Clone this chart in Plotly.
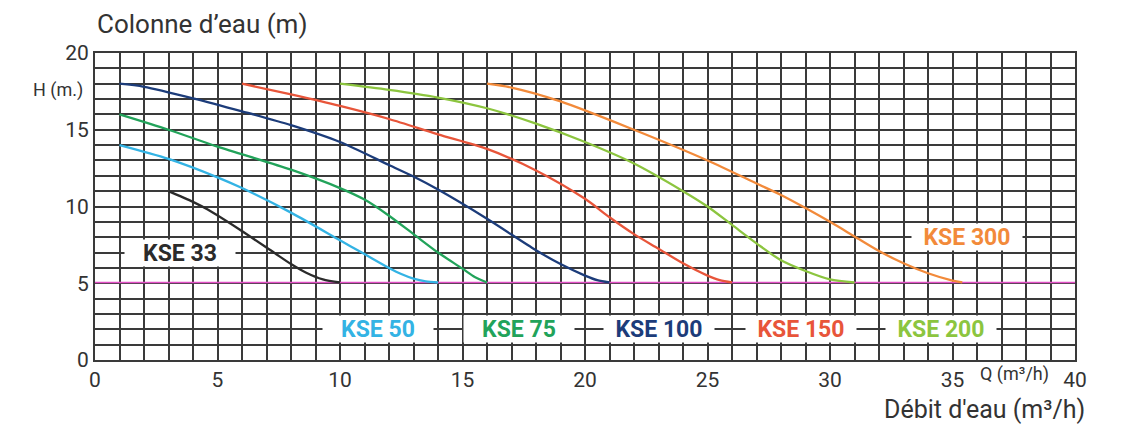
import plotly.graph_objects as go

# pump curves: flow Q (m3/h) vs head H (m)
kse33_q = [3, 4, 4.6, 5.9, 7.3, 8, 8.6, 9.3, 10]
kse33_h = [11, 10.3, 9.8, 8.5, 7.0, 6.25, 5.7, 5.25, 5.05]

kse50_q = [1, 3, 5, 6, 8, 10, 11, 12, 12.5, 13, 13.5, 14]
kse50_h = [14, 13.1, 11.9, 11.2, 9.6, 7.8, 6.9, 6.0, 5.6, 5.3, 5.12, 5.05]

kse75_q = [1, 3, 5, 8, 10, 11, 12, 13, 14, 15, 15.5, 16]
kse75_h = [16, 15.0, 13.9, 12.4, 11.2, 10.45, 9.4, 8.2, 7.0, 5.95, 5.4, 5.05]

kse100_q = [1, 2, 4, 6, 8, 10, 12, 13, 14, 16, 18, 19, 20, 20.5, 21]
kse100_h = [18, 17.8, 17.05, 16.2, 15.3, 14.2, 12.7, 11.95, 11.1, 9.2, 7.15, 6.25, 5.5, 5.2, 5.05]

kse150_q = [6, 8, 10, 12, 14, 16, 18, 20, 21, 22, 23, 24, 25, 25.5, 26]
kse150_h = [18, 17.3, 16.55, 15.7, 14.7, 13.75, 12.35, 10.5, 9.3, 8.2, 7.25, 6.3, 5.5, 5.2, 5.05]

kse200_q = [10, 12, 14, 16, 18, 20, 22, 24, 25, 26, 27, 28, 29, 30, 31]
kse200_h = [18, 17.6, 17.1, 16.4, 15.4, 14.2, 12.8, 11.0, 10.0, 8.8, 7.6, 6.5, 5.8, 5.25, 5.05]

kse300_q = [16, 17, 19, 22, 25, 27, 28, 29, 30, 31, 32, 33, 34, 35, 35.4]
kse300_h = [18, 17.75, 16.85, 15.0, 13.0, 11.5, 10.75, 9.9, 9.0, 8.05, 7.1, 6.3, 5.65, 5.17, 5.05]

min_head = 5.05

names = ['KSE 33', 'KSE 50', 'KSE 75', 'KSE 100', 'KSE 150', 'KSE 200', 'KSE 300']
label_q = [3.45, 11.55, 17.3, 23.0, 28.8, 34.55, 35.6]
label_h = [7, 2, 2, 2, 2, 2, 8]

x_ticks = [0, 5, 10, 15, 20, 25, 30, 35, 40]
y_ticks = [0, 5, 10, 15, 20]

colors = ['#2b2b2b', '#33b3e4', '#22a35a', '#1c3c7a', '#e8553a', '#8cc53f', '#f28a3a']
curves = [(kse33_q, kse33_h), (kse50_q, kse50_h), (kse75_q, kse75_h), (kse100_q, kse100_h),
          (kse150_q, kse150_h), (kse200_q, kse200_h), (kse300_q, kse300_h)]

grid_col = '#3a3a3a'

fig = go.Figure()

# magenta line at minimum head
fig.add_trace(go.Scatter(x=[0, 40], y=[min_head, min_head], mode='lines',
                         line=dict(color='#e24fc6', width=1.6), showlegend=False,
                         hoverinfo='skip'))

for (q, h), name, col in zip(curves, names, colors):
    fig.add_trace(go.Scatter(x=q, y=h, mode='lines', name=name,
                             line=dict(color=col, width=2.3, shape='spline', smoothing=0.8),
                             showlegend=False))

# model labels in white boxes
for name, q, h, col in zip(names, label_q, label_h, colors):
    fig.add_annotation(x=q, y=h, text='<b>' + name + '</b>', showarrow=False,
                       font=dict(family='Roboto', size=23, color=col),
                       bgcolor='white', width=110, height=26, borderpad=0)

txt = dict(family='Roboto', color='#333333')
fig.add_annotation(xref='paper', yref='paper', x=0, y=1, xanchor='left', yanchor='bottom',
                   yshift=12, text='Colonne d’eau (m)', showarrow=False,
                   font=dict(size=26, **txt))
fig.add_annotation(xref='paper', yref='y', x=0, y=18, xanchor='right', yanchor='middle',
                   xshift=-10, yshift=-6, text='H (m.)', showarrow=False,
                   font=dict(size=18, **txt))
fig.add_annotation(xref='x', yref='paper', x=37.55, y=0, xanchor='center', yanchor='top',
                   yshift=-1, text='Q (m³/h)', showarrow=False,
                   font=dict(size=18, **txt))
fig.add_annotation(xref='paper', yref='paper', x=1, y=0, xanchor='right', yanchor='top',
                   xshift=12, yshift=-33, text="Débit d'eau (m³/h)", showarrow=False,
                   font=dict(size=25, **txt))

fig.update_xaxes(range=[0, 40], tickvals=x_ticks, ticktext=[str(v) for v in x_ticks],
                 showgrid=True, gridcolor=grid_col, gridwidth=1.8, zeroline=False,
                 showline=True, linecolor=grid_col, linewidth=2, mirror=True,
                 ticks='', tickfont=dict(size=21, **txt), automargin=False,
                 minor=dict(dtick=1, showgrid=True, gridcolor=grid_col, gridwidth=1.8))
fig.update_yaxes(range=[0, 20], tickvals=y_ticks, ticktext=[str(v) for v in y_ticks],
                 showgrid=True, gridcolor=grid_col, gridwidth=1.8, zeroline=False,
                 showline=True, linecolor=grid_col, linewidth=2, mirror=True,
                 ticks='', tickfont=dict(size=21, **txt), automargin=False,
                 minor=dict(dtick=1, showgrid=True, gridcolor=grid_col, gridwidth=1.8))

fig.update_layout(width=1128, height=422, plot_bgcolor='white', paper_bgcolor='white',
                  margin=dict(l=87, r=61, t=45, b=70), showlegend=False)

fig.write_html('out.html')
